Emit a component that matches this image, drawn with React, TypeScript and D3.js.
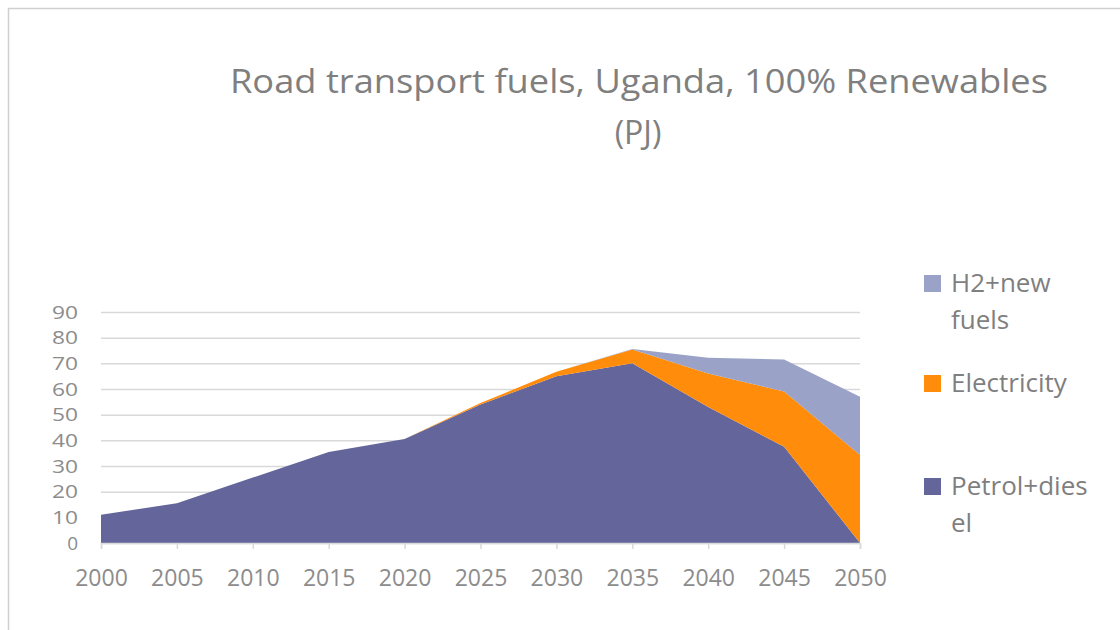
import React, { useEffect, useRef } from "react";
import {
  select,
  scaleLinear,
  stack,
  area,
  axisLeft,
  axisBottom,
} from "d3";

const years = [2000, 2005, 2010, 2015, 2020, 2025, 2030, 2035, 2040, 2045, 2050];
const petrolDiesel = [11, 15.5, 25.5, 35.5, 40.5, 54, 65, 70, 53, 37.5, 0];
const electricity = [0, 0, 0, 0, 0, 0.5, 1.7, 5.4, 13, 21.5, 34.3];
const h2NewFuels = [0, 0, 0, 0, 0, 0, 0, 0.2, 6.2, 12.5, 22.7];
const yTicks = [0, 10, 20, 30, 40, 50, 60, 70, 80, 90];
const seriesNames = ["Petrol+diesel", "Electricity", "H2+new fuels"];
const colors = ["#63659b", "#ff8c0a", "#9aa3c7"];

const FONT = "'Open Sans', 'Liberation Sans', sans-serif";

export default function App() {
  const ref = useRef<SVGSVGElement>(null);

  useEffect(() => {
    const svg = select(ref.current);
    svg.selectAll("*").remove();

    const margin = { left: 101, top: 312 };
    const width = 759;
    const height = 231;

    // frame lines (top + left only)
    svg.append("line").attr("x1", 8).attr("x2", 1120).attr("y1", 8.5).attr("y2", 8.5).attr("stroke", "#d0d0d0").attr("stroke-width", 1.5);
    svg.append("line").attr("x1", 8.5).attr("x2", 8.5).attr("y1", 8).attr("y2", 630).attr("stroke", "#d0d0d0").attr("stroke-width", 1.5);

    svg.append("text")
      .attr("x", 639).attr("y", 93)
      .attr("text-anchor", "middle")
      .attr("font-family", FONT).attr("font-size", 32).attr("fill", "#7f7f7f")
      .attr("textLength", 818).attr("lengthAdjust", "spacingAndGlyphs")
      .text("Road transport fuels, Uganda, 100% Renewables");
    svg.append("text")
      .attr("x", 638).attr("y", 144)
      .attr("text-anchor", "middle")
      .attr("font-family", FONT).attr("font-size", 32).attr("fill", "#7f7f7f")
      .text("(PJ)");

    const g = svg.append("g").attr("transform", `translate(${margin.left},${margin.top})`);

    const xScale = scaleLinear().domain([2000, 2050]).range([0, width]);
    const yScale = scaleLinear().domain([0, 90]).range([height, 0]);

    const yAxis = axisLeft(yScale).tickValues(yTicks).tickSize(-width).tickPadding(23);
    const yG = g.append("g").call(yAxis);
    yG.select(".domain").remove();
    yG.selectAll(".tick line").attr("stroke", "#d9d9d9").attr("stroke-width", 1.5);
    yG.selectAll(".tick text").attr("fill", "#8c8c8c").attr("font-family", FONT).attr("font-size", 19)
      .attr("textLength", 26).attr("lengthAdjust", "spacingAndGlyphs");
    yG.selectAll(".tick text").filter((d: any) => d === 0).attr("textLength", null);

    const table = years.map((y, i) => ({
      year: y,
      "Petrol+diesel": petrolDiesel[i],
      Electricity: electricity[i],
      "H2+new fuels": h2NewFuels[i],
    }));
    const layers = stack<any>().keys(seriesNames)(table);

    const areaGen = area<any>()
      .x((d) => xScale(d.data.year))
      .y0((d) => yScale(d[0]))
      .y1((d) => yScale(d[1]));

    g.selectAll(".layer")
      .data(layers)
      .join("path")
      .attr("class", "layer")
      .attr("fill", (_, i) => colors[i])
      .attr("d", (d) => areaGen(d as any));

    const xAxis = axisBottom(xScale).tickValues(years).tickFormat((d) => String(d)).tickSize(6).tickPadding(21);
    const xG = g.append("g").attr("transform", `translate(0,${height})`).call(xAxis);
    xG.select(".domain").attr("stroke", "#d9d9d9").attr("stroke-width", 1.5);
    xG.selectAll(".tick line").attr("stroke", "#d9d9d9").attr("stroke-width", 1.5);
    xG.selectAll(".tick text").attr("fill", "#8c8c8c").attr("font-family", FONT).attr("font-size", 23);

    // legend
    const legend = [
      { name: ["H2+new", "fuels"], color: colors[2], y: 292 },
      { name: ["Electricity"], color: colors[1], y: 392 },
      { name: ["Petrol+dies", "el"], color: colors[0], y: 495 },
    ];
    const lg = svg.append("g");
    legend.forEach((l) => {
      lg.append("rect").attr("x", 924).attr("y", l.y - 17).attr("width", 17).attr("height", 17).attr("fill", l.color);
      l.name.forEach((t, j) => {
        lg.append("text")
          .attr("x", 951).attr("y", l.y + j * 37)
          .attr("font-family", FONT).attr("font-size", 26).attr("fill", "#7f7f7f")
          .text(t);
      });
    });
  }, []);

  return (
    <svg
      ref={ref}
      width={1120}
      height={630}
      style={{ position: "absolute", left: 0, top: 0, background: "#ffffff" }}
    />
  );
}
